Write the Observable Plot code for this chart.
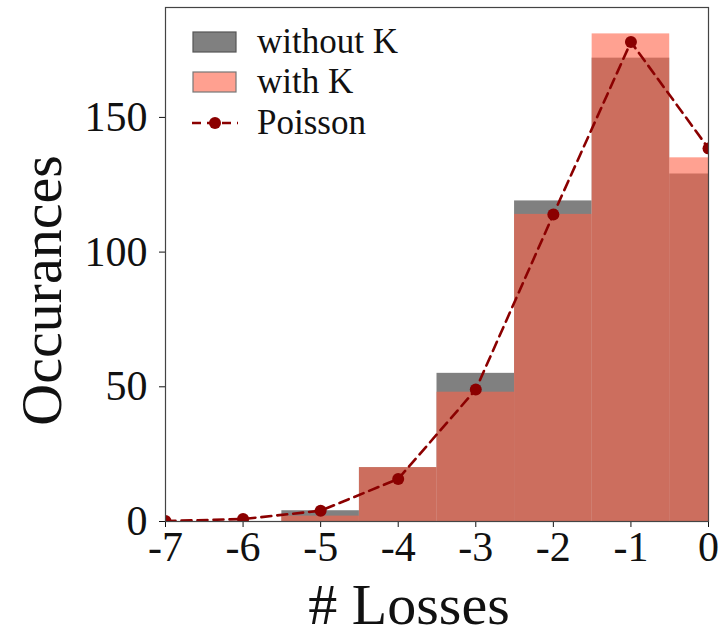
<!DOCTYPE html>
<html>
<head>
<meta charset="utf-8">
<script src="https://cdn.jsdelivr.net/npm/d3@7"></script>
<script src="https://cdn.jsdelivr.net/npm/@observablehq/plot@0.6"></script>
<style>
  html, body { margin: 0; padding: 0; background: #fff; }
  #chart { width: 722px; height: 636px; }
</style>
</head>
<body>
<div id="chart"></div>
<script>
// Histogram bins (# losses)
const binCenters = [-5, -4, -3, -2, -1, 0];
const withoutK = [4, 20, 55, 119, 172, 129];
const withK    = [2, 20, 48, 114, 181, 135];

// Poisson fit
const poissonX = [-7, -6, -5, -4, -3, -2, -1, 0];
const poissonY = [0.2, 0.9, 4, 15.8, 49, 114, 178, 138.5];

const xTicks = [-7, -6, -5, -4, -3, -2, -1, 0];
const yTicks = [0, 50, 100, 150];

const legendItems = ["without K", "with K", "Poisson"];

const bars = binCenters.map((c, i) => ({x1: c - 0.5, x2: c + 0.5, without: withoutK[i], with: withK[i]}));
const poisson = poissonX.map((x, i) => ({x, y: poissonY[i]}));

const FONT = "'Liberation Serif', 'DejaVu Serif', serif";
const DARKRED = "#8b0000";

const plot = Plot.plot({
  width: 722,
  height: 636,
  marginLeft: 165,
  marginRight: 14,
  marginTop: 7,
  marginBottom: 115,
  style: {fontFamily: FONT, fontSize: "42px", color: "#111", background: "#fff"},
  x: {domain: [-7, 0], ticks: xTicks, tickFormat: d => String(d), tickSize: 6, tickPadding: 4, label: null},
  y: {domain: [0, 190.8], ticks: yTicks, tickFormat: d => String(d), tickSize: 6, tickPadding: 12, label: null},
  marks: [
    Plot.rect(bars, {x1: "x1", x2: "x2", y1: 0, y2: "without", fill: "#808080", clip: true}),
    Plot.rect(bars, {x1: "x1", x2: "x2", y1: 0, y2: "with", fill: "#ff6347", fillOpacity: 0.6, clip: true}),
    Plot.line(poisson, {x: "x", y: "y", stroke: DARKRED, strokeWidth: 2.6, strokeDasharray: "10,6", clip: true}),
    Plot.dot(poisson, {x: "x", y: "y", r: 6, fill: DARKRED, stroke: "none", clip: true}),
    Plot.frame({stroke: "#444", strokeWidth: 1.2}),
    Plot.text(["# Losses"], {frameAnchor: "bottom", text: d => d, textAnchor: "middle", lineAnchor: "middle", dx: -28, dy: 84, fontSize: 58, fill: "#111"}),
    Plot.text(["Occurances"], {frameAnchor: "left", text: d => d, textAnchor: "middle", lineAnchor: "middle", rotate: -90, dx: -123, dy: 26, fontSize: 58, fill: "#111"})
  ]
});

document.getElementById("chart").appendChild(plot);

// Legend inside the plot area (top-left)
const svg = d3.select(plot);
const lg = svg.append("g").attr("font-family", FONT).attr("font-size", 35).attr("fill", "#111").attr("text-anchor", "start");
const rows = [
  {y: 42, type: "patch", fill: "#808080", stroke: "#555"},
  {y: 82, type: "patch", fill: "#ffa090", stroke: "#777"},
  {y: 123, type: "line"}
];
rows.forEach((r, i) => {
  if (r.type === "patch") {
    lg.append("rect").attr("x", 193).attr("y", r.y - 10).attr("width", 43).attr("height", 20)
      .attr("fill", r.fill).attr("stroke", r.stroke).attr("stroke-width", 1.2);
  } else {
    lg.append("line").attr("x1", 192).attr("x2", 238).attr("y1", r.y).attr("y2", r.y)
      .attr("stroke", DARKRED).attr("stroke-width", 2.6).attr("stroke-dasharray", "9,6");
    lg.append("circle").attr("cx", 215).attr("cy", r.y).attr("r", 6).attr("fill", DARKRED);
  }
  lg.append("text").attr("x", 257).attr("y", r.y).attr("dy", "0.32em").attr("text-anchor", "start").text(legendItems[i]);
});
</script>
</body>
</html>
